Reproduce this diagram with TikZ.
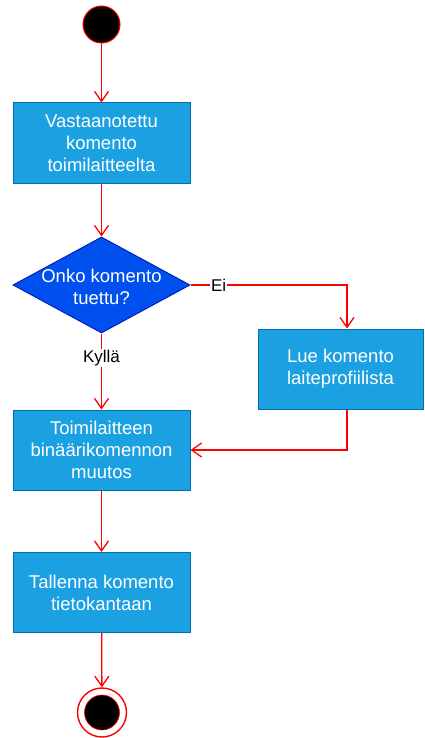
\documentclass[tikz,border=0pt]{standalone}
\usepackage{fontspec}
\setmainfont{Liberation Sans}
\usetikzlibrary{shapes.geometric,arrows.meta}

\definecolor{boxfill}{HTML}{1BA1E2}
\definecolor{boxline}{HTML}{006EAF}
\definecolor{decfill}{HTML}{0050EF}
\definecolor{decline}{HTML}{001DBC}
\definecolor{flowred}{HTML}{FF0000}

\begin{document}
\begin{tikzpicture}[
    x=1pt,
    y=-1pt,
    action/.style={
        rectangle,
        draw=boxline,
        fill=boxfill,
        line width=1pt,
        minimum width=177pt,
        minimum height=80pt,
        inner sep=0pt,
        text=white,
        align=center,
        font=\fontsize{18.5}{22}\selectfont
    },
    decision/.style={
        diamond,
        draw=decline,
        fill=decfill,
        line width=1pt,
        minimum width=177pt,
        minimum height=96pt,
        inner sep=0pt
    },
    flow/.style={
        draw=flowred,
        line width=1.3pt,
        -{Straight Barb[length=10pt,width=14pt]}
    },
    guard/.style={
        text=black,
        fill=white,
        inner sep=1pt,
        font=\fontsize{17}{20}\selectfont
    },
    startdot/.style={
        circle,
        draw=flowred,
        fill=black,
        line width=1pt,
        minimum size=37pt,
        inner sep=0pt
    }
]

\useasboundingbox (0,0) rectangle (425,738);

% =================================================
% Alku ja loppu
% =================================================

\node[startdot] (start) at (101.5,24.5) {};

\node[circle, draw=flowred, line width=1.4pt, minimum size=49pt,
      inner sep=0pt] (stop) at (102,712.5) {};
\node[startdot, minimum size=35pt, line width=0.6pt] (stopdot) at (stop) {};

% =================================================
% Toiminnot ja päätös
% =================================================

\node[action] (recv) at (101.5,143) {Vastaanotettu\\komento\\toimilaitteelta};

\node[decision] (dec) at (101.5,285) {};
\node[text=white, align=center, inner sep=0pt,
      font=\fontsize{18.5}{22}\selectfont] (dectext) at (101.5,287)
      {Onko komento\\tuettu?};

\node[action, minimum width=165pt] (read) at (340.5,369)
      {Lue komento\\laiteprofiilista};

\node[action] (conv) at (101.5,450) {Toimilaitteen\\binäärikomennon\\muutos};

\node[action] (save) at (101.5,592.5) {Tallenna komento\\tietokantaan};

% =================================================
% Siirtymät
% =================================================

\draw[flow] (start) -- (recv);
\draw[flow] (recv) -- (dec);

% Ei-haara kiertää profiilin kautta
\draw[flow] (dec.east) -| node[guard, pos=0.09] {Ei} ([xshift=6.5pt]read.north);
\draw[flow] ([xshift=6.5pt]read.south) |- (conv.east);

\draw[flow] (dec.south) -- node[guard, pos=0.32] {Kyllä} (conv.north);
\draw[flow] (conv) -- (save);
\draw[flow] (save) -- (stop);

\end{tikzpicture}
\end{document}
